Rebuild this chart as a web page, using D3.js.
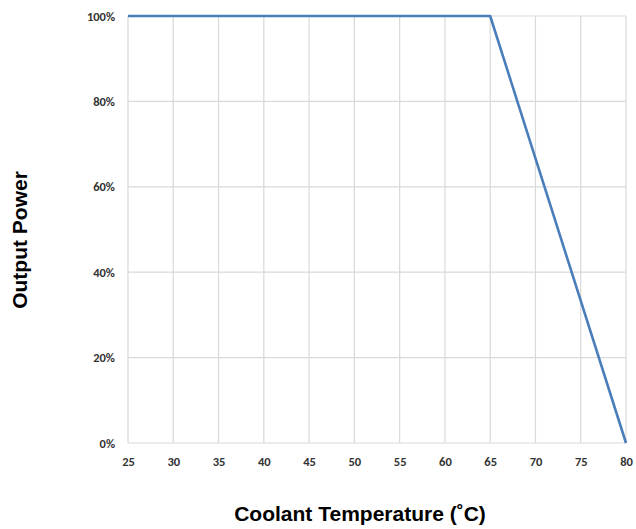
<!DOCTYPE html>
<html><head><meta charset="utf-8">
<script src="https://cdn.jsdelivr.net/npm/d3@7"></script>
<style>body{margin:0;background:#fff;}</style>
</head><body>
<svg id="c" width="636" height="529"></svg>
<script>
const temps = [25, 65, 80];
const power = [100, 100, 0];
const xTicks = [25,30,35,40,45,50,55,60,65,70,75,80];
const yTicks = [0,20,40,60,80,100];

const svg = d3.select("#c");
const m = {l:128, r:10, t:16, b:86};
const W = 636, H = 529;
const x = d3.scaleLinear().domain([25,80]).range([m.l, W-m.r]);
const y = d3.scaleLinear().domain([0,100]).range([H-m.b, m.t]);

const g = svg.append("g");
// grid
g.selectAll(".vx").data(xTicks).enter().append("line")
 .attr("x1",d=>x(d)).attr("x2",d=>x(d)).attr("y1",y(0)).attr("y2",y(100))
 .attr("stroke","#d9d9d9").attr("stroke-width",1.2);
g.selectAll(".hy").data(yTicks).enter().append("line")
 .attr("x1",x(25)).attr("x2",x(80)).attr("y1",d=>y(d)).attr("y2",d=>y(d))
 .attr("stroke","#d9d9d9").attr("stroke-width",1.2);

// axes labels via d3 axes
const xAxis = d3.axisBottom(x).tickValues(xTicks).tickSize(0).tickPadding(14);
const gx = svg.append("g").attr("transform",`translate(0,${y(0)})`).call(xAxis);
gx.select(".domain").remove();
gx.selectAll("text").attr("font-family","Carlito, Calibri, 'Open Sans', sans-serif").attr("font-weight","bold").attr("font-size","12.5px").attr("fill","#333");

const yAxis = d3.axisLeft(y).tickValues(yTicks).tickFormat(d=>d+"%").tickSize(0).tickPadding(13);
const gy = svg.append("g").attr("transform",`translate(${x(25)},0)`).call(yAxis);
gy.select(".domain").remove();
gy.selectAll("text").attr("font-family","Carlito, Calibri, 'Open Sans', sans-serif").attr("font-weight","bold").attr("font-size","12.5px").attr("fill","#333");

// line
const line = d3.line().x((d,i)=>x(temps[i])).y((d,i)=>y(power[i]));
svg.append("path").datum(power).attr("d",line).attr("fill","none")
 .attr("stroke","#4a7ebb").attr("stroke-width",2.6).attr("stroke-linejoin","round");

// titles
svg.append("text").attr("x",360).attr("y",521).attr("text-anchor","middle")
 .attr("font-family","Liberation Sans, Arial, sans-serif").attr("font-weight","bold").attr("font-size","21px")
 .attr("fill","#000").text("Coolant Temperature (˚C)");
svg.append("text").attr("transform","translate(27,240) rotate(-90)").attr("text-anchor","middle")
 .attr("font-family","Liberation Sans, Arial, sans-serif").attr("font-weight","bold").attr("font-size","21px")
 .attr("fill","#000").text("Output Power");
</script>
</body></html>
